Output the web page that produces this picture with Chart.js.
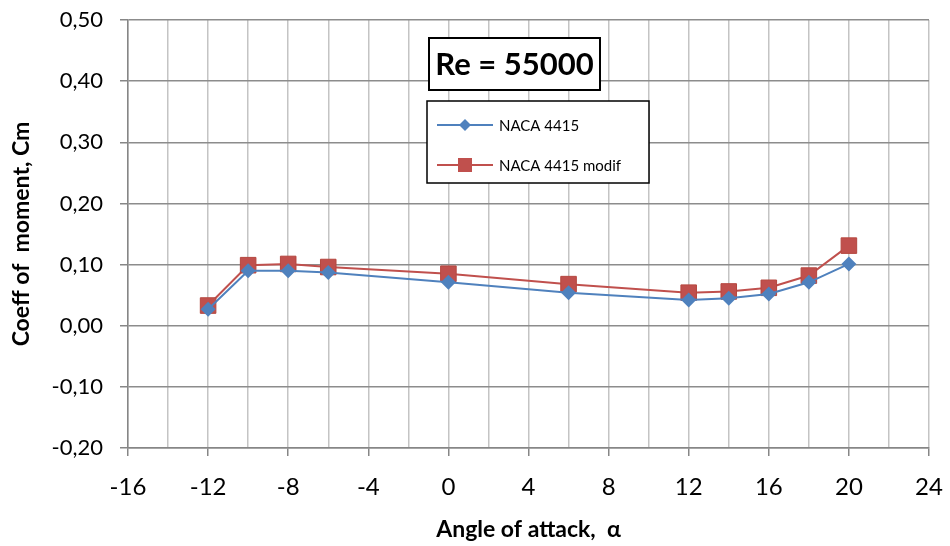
<!DOCTYPE html>
<html>
<head>
<meta charset="utf-8">
<script src="https://cdn.jsdelivr.net/npm/chart.js@4"></script>
<style>
  html, body { margin: 0; padding: 0; background: #fff; }
  #wrap { width: 950px; height: 546px; }
</style>
</head>
<body>
<div id="wrap"><canvas id="c" width="950" height="546"></canvas></div>
<script>
// Pitching-moment coefficient vs angle of attack, Re = 55000
const angles = [-12, -10, -8, -6, 0, 6, 12, 14, 16, 18, 20];
const cmNaca4415 = [0.027, 0.090, 0.090, 0.087, 0.071, 0.054, 0.042, 0.045, 0.052, 0.071, 0.101];
const cmNaca4415Modif = [0.033, 0.099, 0.101, 0.096, 0.085, 0.068, 0.054, 0.056, 0.062, 0.082, 0.131];
const seriesNames = ['NACA 4415', 'NACA 4415 modif'];
const reynoldsLabel = 'Re = 55000';

const FONT = 'Lato, "Open Sans", sans-serif';
const BLUE = '#4F81BD';
const RED = '#C0504D';

function toPoints(xs, ys) { return xs.map((x, i) => ({ x: x, y: ys[i] })); }

// Boxed Reynolds label and legend inside the plot
const overlayBoxes = {
  id: 'overlayBoxes',
  afterDraw(chart) {
    const ctx = chart.ctx;
    ctx.save();
    // Reynolds number box
    ctx.fillStyle = '#fff';
    ctx.fillRect(429, 38, 171, 52);
    ctx.strokeStyle = '#000';
    ctx.lineWidth = 2;
    ctx.strokeRect(429, 38, 171, 52);
    ctx.fillStyle = '#000';
    ctx.font = 'bold 31px ' + FONT;
    ctx.textAlign = 'center';
    ctx.textBaseline = 'middle';
    ctx.fillText(reynoldsLabel, 514.5, 65);

    // Legend box
    ctx.fillStyle = '#fff';
    ctx.fillRect(427, 101, 222, 82);
    ctx.lineWidth = 1.5;
    ctx.strokeStyle = '#000';
    ctx.strokeRect(427, 101, 222, 82);
    const rows = [125, 165];
    chart.data.datasets.forEach((ds, i) => {
      const y = rows[i];
      ctx.strokeStyle = ds.borderColor;
      ctx.lineWidth = 2;
      ctx.beginPath();
      ctx.moveTo(437, y);
      ctx.lineTo(493, y);
      ctx.stroke();
      ctx.fillStyle = ds.pointBackgroundColor;
      if (ds.pointStyle === 'rectRot') {
        ctx.beginPath();
        ctx.moveTo(465, y - 6);
        ctx.lineTo(471, y);
        ctx.lineTo(465, y + 6);
        ctx.lineTo(459, y);
        ctx.closePath();
        ctx.fill();
      } else {
        ctx.fillRect(458, y - 7, 14, 14);
      }
      ctx.fillStyle = '#000';
      ctx.font = '15px ' + FONT;
      ctx.textAlign = 'left';
      ctx.textBaseline = 'middle';
      ctx.fillText(ds.label, 499, y + 1);
    });
    ctx.restore();
  }
};

new Chart(document.getElementById('c'), {
  type: 'line',
  data: {
    datasets: [
      {
        label: seriesNames[0],
        data: toPoints(angles, cmNaca4415),
        borderColor: BLUE,
        backgroundColor: BLUE,
        pointBackgroundColor: BLUE,
        pointBorderColor: BLUE,
        pointStyle: 'rectRot',
        pointRadius: 7.5,
        pointBorderWidth: 0,
        borderWidth: 2,
        tension: 0
      },
      {
        label: seriesNames[1],
        data: toPoints(angles, cmNaca4415Modif),
        borderColor: RED,
        backgroundColor: RED,
        pointBackgroundColor: RED,
        pointBorderColor: '#B5473F',
        pointStyle: 'rect',
        pointRadius: 11,
        pointBorderWidth: 1,
        borderWidth: 2,
        tension: 0
      }
    ]
  },
  options: {
    responsive: false,
    animation: false,
    devicePixelRatio: 1,
    layout: { padding: { top: 20, right: 21, left: 0, bottom: 0 } },
    plugins: { legend: { display: false }, tooltip: { enabled: false } },
    scales: {
      x: {
        type: 'linear',
        min: -16,
        max: 24,
        afterFit(s) { s.height = 98; s.paddingLeft = 0; s.paddingRight = 0; },
        ticks: {
          stepSize: 2,
          autoSkip: false,
          maxRotation: 0,
          padding: 17,
          color: '#000',
          font: { family: FONT, size: 24 },
          callback: v => (Math.round(v) % 4 === 0 ? String(Math.round(v)) : '')
        },
        grid: {
          color: '#C4C4C4',
          lineWidth: 1.5,
          tickLength: 8,
          tickColor: ctx => (ctx.tick && Math.round(ctx.tick.value) % 4 === 0 ? '#868686' : 'rgba(0,0,0,0)')
        },
        border: { color: '#868686', width: 1.5 },
        title: {
          display: true,
          text: 'Angle of attack,  α',
          color: '#000',
          font: { family: FONT, size: 23, weight: 'bold' },
          padding: { top: 0, bottom: 3 }
        }
      },
      y: {
        min: -0.2,
        max: 0.5,
        afterFit(s) { s.width = 128; s.paddingTop = 0; s.paddingBottom = 0; },
        ticks: {
          stepSize: 0.1,
          padding: 17,
          color: '#000',
          font: { family: FONT, size: 22 },
          callback: v => (Math.round(v * 100) / 100 + 0).toFixed(2).replace('-0.00', '0.00').replace('.', ',')
        },
        grid: {
          color: '#8C8C8C',
          lineWidth: 1.5,
          tickLength: 8,
          tickColor: '#868686'
        },
        border: { color: '#868686', width: 1.5 },
        title: {
          display: true,
          text: 'Coeff of  moment, Cm',
          color: '#000',
          font: { family: FONT, size: 23, weight: 'bold' },
          padding: { top: 8, bottom: 0 }
        }
      }
    }
  },
  plugins: [overlayBoxes]
});
</script>
</body>
</html>
